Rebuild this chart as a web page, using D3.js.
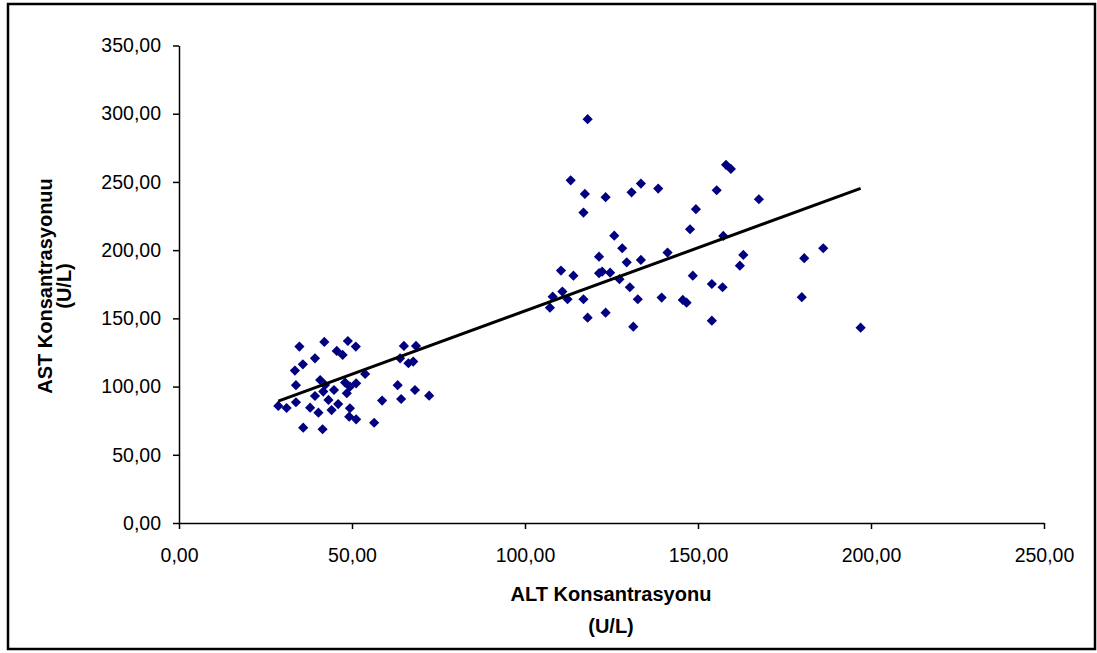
<!DOCTYPE html>
<html>
<head>
<meta charset="utf-8">
<script src="https://cdn.jsdelivr.net/npm/d3@7"></script>
<style>
  body { margin: 0; background: #fff; }
  svg text { font-family: "Liberation Sans", Arial, sans-serif; fill: #000; }
</style>
</head>
<body>
<svg id="chart" width="1097" height="653"></svg>
<script>
// ALT values (x) and AST values (y)
var altValues = [
  34.8, 42.0, 48.8, 51.1, 45.6, 47.3, 39.3, 35.8, 33.5, 65.0, 68.5, 63.9, 66.3, 67.7, 53.8,
  33.8, 40.8, 42.2, 48.0, 51.2, 49.4, 41.7, 44.8, 39.3, 48.5, 43.2, 33.8, 28.7, 31.1, 46.0,
  37.9, 40.3, 44.1, 49.4, 49.2, 51.2, 35.9, 41.5, 56.4, 58.7, 63.2, 64.2, 68.2, 72.3,
  118.1, 113.2, 117.3, 123.3, 116.9, 130.8, 133.5, 138.5, 155.4, 158.1, 159.5, 149.4, 147.7,
  125.8, 157.3, 128.1, 121.4, 129.4, 133.5, 141.2, 110.4, 114.0, 121.4, 122.3, 124.6, 127.3,
  108.0, 110.8, 112.3, 107.2, 116.9, 130.3, 132.6, 139.5, 145.6, 146.7, 148.5, 154.0, 157.1,
  118.1, 123.3, 131.3, 154.0, 167.6, 163.1, 162.1, 180.7, 186.2, 180.0, 197.0
];
var astValues = [
  129.3, 132.7, 133.4, 129.3, 126.1, 123.2, 120.7, 116.3, 111.7, 129.8, 129.8, 120.7, 117.1, 118.3, 109.2,
  101.0, 104.8, 101.2, 102.9, 102.4, 99.9, 96.3, 97.5, 93.1, 95.1, 90.2, 88.5, 85.8, 84.3, 87.2,
  84.5, 80.9, 82.8, 84.1, 77.9, 76.0, 69.9, 68.7, 73.5, 89.7, 101.0, 90.9, 97.5, 93.3,
  296.0, 251.2, 241.2, 238.8, 227.5, 242.4, 248.8, 245.1, 243.9, 262.5, 259.5, 230.0, 215.3,
  210.6, 210.4, 201.4, 195.2, 191.1, 192.8, 198.2, 185.0, 181.3, 183.1, 184.2, 183.5, 178.7,
  165.9, 169.6, 164.0, 157.8, 164.0, 172.8, 164.0, 165.2, 163.5, 161.5, 181.3, 175.2, 172.8,
  150.5, 154.2, 143.9, 148.3, 237.3, 196.5, 188.6, 194.1, 201.4, 165.5, 143.2
];
var xTicks = [0, 50, 100, 150, 200, 250];
var yTicks = [0, 50, 100, 150, 200, 250, 300, 350];

var svg = d3.select("#chart");
var x = d3.scaleLinear().domain([0, 250]).range([179, 1044]);
var y = d3.scaleLinear().domain([0, 350]).range([523, 45.5]);
var fmt = function (v) { return d3.format(".2f")(v).replace(".", ","); };

// chart frame
svg.append("rect").attr("x", 8).attr("y", 4).attr("width", 1087).attr("height", 645)
   .attr("fill", "#fff").attr("stroke", "#000").attr("stroke-width", 2.5);

// axes
var xAxis = svg.append("g").attr("transform", "translate(0,523)")
   .call(d3.axisBottom(x).tickValues(xTicks).tickFormat(fmt).tickSize(6).tickSizeOuter(0).tickPadding(19));
var yAxis = svg.append("g").attr("transform", "translate(179,0)")
   .call(d3.axisLeft(y).tickValues(yTicks).tickFormat(fmt).tickSize(6).tickSizeOuter(0).tickPadding(12));
[xAxis, yAxis].forEach(function (g) {
  g.select(".domain").attr("stroke", "#000").attr("stroke-width", 1.5);
  g.selectAll(".tick line").attr("stroke", "#000").attr("stroke-width", 1.5);
  g.selectAll(".tick text").attr("font-size", 19.5).attr("font-family", "Liberation Sans, Arial, sans-serif").attr("fill", "#000");
});

// points
var diamond = d3.symbol().type(d3.symbolSquare).size(52);
svg.append("g").selectAll("path").data(altValues).join("path")
   .attr("d", diamond)
   .attr("transform", function (d, i) { return "translate(" + x(d) + "," + y(astValues[i]) + ") rotate(45)"; })
   .attr("fill", "#000080");

// linear trend line (least squares)
var mx = d3.mean(altValues), my = d3.mean(astValues);
var sxy = d3.sum(altValues, function (d, i) { return (d - mx) * (astValues[i] - my); });
var sxx = d3.sum(altValues, function (d) { return (d - mx) * (d - mx); });
var slope = sxy / sxx, intercept = my - slope * mx;
var ext = d3.extent(altValues);
svg.append("line")
   .attr("x1", x(ext[0])).attr("y1", y(intercept + slope * ext[0]))
   .attr("x2", x(ext[1])).attr("y2", y(intercept + slope * ext[1]))
   .attr("stroke", "#000").attr("stroke-width", 3);

// axis titles
var xt = svg.append("text").attr("text-anchor", "middle").attr("font-weight", "bold").attr("font-size", 20);
xt.append("tspan").attr("x", 611).attr("y", 601).text("ALT Konsantrasyonu");
xt.append("tspan").attr("x", 611).attr("y", 633).text("(U/L)");
var yt = svg.append("text").attr("text-anchor", "middle").attr("font-weight", "bold").attr("font-size", 20)
   .attr("transform", "translate(0,286) rotate(-90)");
yt.append("tspan").attr("x", 0).attr("y", 52).text("AST Konsantrasyonuu");
yt.append("tspan").attr("x", 0).attr("y", 71).text("(U/L)");
</script>
</body>
</html>
